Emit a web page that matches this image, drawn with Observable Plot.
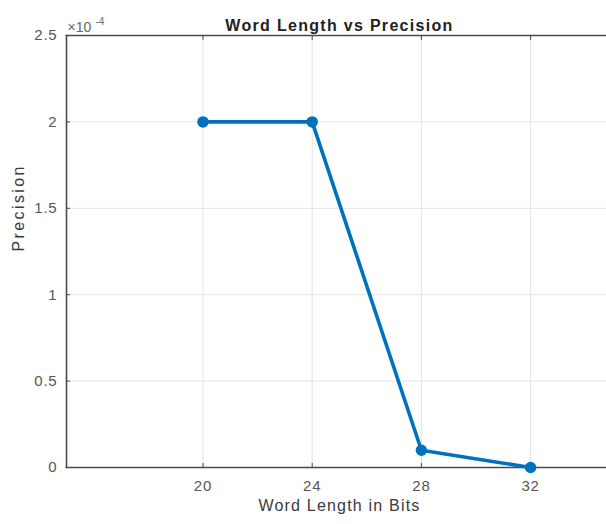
<!DOCTYPE html>
<html>
<head>
<meta charset="utf-8">
<script src="https://cdn.jsdelivr.net/npm/d3@7"></script>
<script src="https://cdn.jsdelivr.net/npm/@observablehq/plot@0.6"></script>
<style>
  html, body { margin: 0; padding: 0; background: #fff; overflow: hidden; }
  #chart svg { display: block; max-width: none !important; }
</style>
</head>
<body>
<div id="chart"></div>
<script>
const wordLength = [20, 24, 28, 32];
const precision = [2e-4, 2e-4, 0.1e-4, 0];
const xTicks = [20, 24, 28, 32];
const yTicks = [0, 0.5e-4, 1e-4, 1.5e-4, 2e-4, 2.5e-4];
const yTickLabels = ["0", "0.5", "1", "1.5", "2", "2.5"];
const title = "Word Length vs Precision";
const xLabel = "Word Length in Bits";
const yLabel = "Precision";

const data = wordLength.map((w, i) => ({w, p: precision[i]}));
const font = "Liberation Sans, Arial, Helvetica, sans-serif";
const axisColor = "#4a4a4a";
const gridColor = "#e3e3e3";
const lineColor = "#0072BD";
const tickText = "#555";

const chart = Plot.plot({
  width: 612,
  height: 524,
  marginLeft: 66,
  marginRight: 0,
  marginTop: 35,
  marginBottom: 57,
  style: {fontFamily: font, fontSize: "15px", color: tickText, background: "#fff", overflow: "visible", maxWidth: "none"},
  x: {domain: [15, 35], ticks: xTicks},
  y: {domain: [0, 2.5e-4], ticks: yTicks},
  marks: [
    Plot.gridX(xTicks, {stroke: gridColor, strokeOpacity: 1}),
    Plot.gridY(yTicks, {stroke: gridColor, strokeOpacity: 1}),
    Plot.axisX(xTicks, {anchor: "bottom", tickSize: -4, tickPadding: 17, stroke: axisColor, fill: tickText, label: null, fontSize: 15}),
    Plot.axisX(xTicks, {anchor: "top", tickSize: -4, tickFormat: () => "", stroke: axisColor, label: null}),
    Plot.axisY(yTicks, {anchor: "left", tickSize: -4, tickPadding: 13, stroke: axisColor, fill: tickText, label: null, fontSize: 15,
      tickFormat: (d) => yTickLabels[yTicks.indexOf(d)]}),
    Plot.frame({anchor: "left", stroke: axisColor, strokeWidth: 1.6}),
    Plot.frame({anchor: "bottom", stroke: axisColor, strokeWidth: 1.6}),
    Plot.frame({anchor: "top", stroke: axisColor, strokeWidth: 1.6}),
    Plot.line(data, {x: "w", y: "p", stroke: lineColor, strokeWidth: 3.6}),
    Plot.dot(data, {x: "w", y: "p", r: 5, fill: lineColor, stroke: lineColor}),
    Plot.text([title], {frameAnchor: "top", dy: -16, fontWeight: "bold", fontSize: 16, fill: "#222"}),
    Plot.text([xLabel], {frameAnchor: "bottom", dy: 43, fontSize: 16, fill: "#3a3a3a"}),
    Plot.text([yLabel], {frameAnchor: "left", dx: -48, rotate: -90, fontSize: 16, fill: "#3a3a3a"}),
    Plot.text(["×10"], {frameAnchor: "top-left", dx: 1, dy: -13, textAnchor: "start", fontSize: 14, fill: "#666"}),
    Plot.text(["-4"], {frameAnchor: "top-left", dx: 29, dy: -18, textAnchor: "start", fontSize: 10, fill: "#666"})
  ]
});
const spacing = new Map([[title, 1.3], [xLabel, 1.2], [yLabel, 2.4]]);
d3.select(chart).selectAll("text").each(function () {
  const t = this.textContent;
  if (spacing.has(t)) d3.select(this).attr("letter-spacing", spacing.get(t));
  else if (/^[0-9.]+$/.test(t)) d3.select(this).attr("letter-spacing", 0.8);
});
document.getElementById("chart").appendChild(chart);
</script>
</body>
</html>
